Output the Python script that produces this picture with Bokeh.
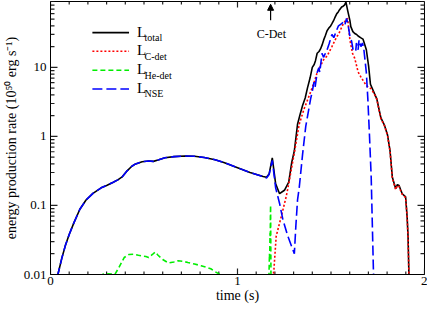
import math
from bokeh.plotting import figure
from bokeh.models import (Range1d, FixedTicker, Label, Arrow, NormalHead, CustomJSTickFormatter)
from bokeh.embed import file_html
from bokeh.resources import INLINE

# ---------------- data ----------------
t_total = [0.035, 0.045, 0.06, 0.079, 0.1, 0.125, 0.157, 0.19, 0.227, 0.271, 0.3, 0.333,
           0.36, 0.385, 0.411, 0.435, 0.455, 0.49, 0.525, 0.55, 0.575, 0.612, 0.66, 0.717,
           0.77, 0.822, 0.88, 0.927, 0.997, 1.067, 1.137, 1.155, 1.169, 1.186, 1.204, 1.225,
           1.251, 1.274, 1.29, 1.304, 1.321, 1.335, 1.348, 1.362, 1.374, 1.388, 1.4, 1.41,
           1.417, 1.426, 1.436, 1.444, 1.452, 1.461, 1.47, 1.479, 1.488, 1.496, 1.505, 1.513,
           1.52, 1.531, 1.538, 1.545, 1.557, 1.565, 1.572, 1.58, 1.589, 1.601, 1.606, 1.617,
           1.627, 1.637, 1.645, 1.658, 1.671, 1.689, 1.701, 1.711, 1.732, 1.745, 1.755, 1.767,
           1.785, 1.802, 1.816, 1.828, 1.846, 1.855, 1.864, 1.872, 1.881, 1.899, 1.907, 1.912,
           1.917]
L_total = [0.009, 0.0115, 0.017, 0.026, 0.038, 0.056, 0.088, 0.12, 0.15, 0.18, 0.195, 0.215,
           0.235, 0.262, 0.32, 0.37, 0.4, 0.43, 0.44, 0.435, 0.455, 0.49, 0.51, 0.52,
           0.515, 0.495, 0.46, 0.42, 0.355, 0.3, 0.262, 0.256, 0.285, 0.49, 0.206, 0.148,
           0.166, 0.217, 0.42, 0.62, 1.5, 2.1, 2.8, 3.6, 5.0, 7.0, 10.0, 11.0,
           12.5, 16.0, 17.0, 18.5, 21.0, 25.0, 29.0, 34.0, 37.0, 39.0, 43.0, 47.0,
           52.0, 60.0, 63.0, 68.0, 75.0, 77.0, 80.0, 88.0, 67.0, 48.0, 39.0, 33.0,
           31.0, 30.0, 28.5, 27.0, 25.7, 18.0, 10.5, 5.7, 4.2, 3.5, 2.6, 1.85,
           1.47, 1.06, 0.61, 0.256, 0.175, 0.2, 0.195, 0.17, 0.148, 0.133, 0.069, 0.036,
           0.009]

t_cdet = [1.19, 1.195, 1.207, 1.234, 1.26, 1.269, 1.277, 1.304, 1.33, 1.356, 1.391, 1.409,
          1.426, 1.461, 1.479, 1.505, 1.531, 1.54, 1.566, 1.583, 1.589, 1.601, 1.615, 1.627,
          1.645, 1.662, 1.689, 1.715, 1.732, 1.745, 1.755, 1.767, 1.785, 1.802, 1.816, 1.828,
          1.846, 1.855, 1.864, 1.872, 1.881, 1.899, 1.907, 1.912, 1.917]
L_cdet = [0.009, 0.012, 0.036, 0.069, 0.133, 0.175, 0.229, 0.58, 1.5, 2.5, 4.4, 6.0,
          8.4, 13.0, 14.6, 20.0, 28.0, 30.0, 43.0, 50.0, 51.0, 25.0, 16.0, 13.5,
          8.6, 7.1, 5.45, 4.87, 4.1, 3.45, 2.55, 1.8, 1.45, 1.04, 0.6, 0.25,
          0.17, 0.195, 0.19, 0.165, 0.145, 0.13, 0.068, 0.035, 0.009]

t_he_a = [0.27, 0.28, 0.31, 0.345, 0.365, 0.394, 0.42, 0.446, 0.47, 0.49, 0.51, 0.525, 0.545,
          0.56, 0.575, 0.6, 0.63, 0.66, 0.682, 0.71, 0.735, 0.77, 0.805, 0.83, 0.857, 0.88,
          0.901, 0.92]
L_he_a = [0.009, 0.0101, 0.0102, 0.0101, 0.0125, 0.0176, 0.0195, 0.0197, 0.019, 0.0186, 0.0182,
          0.0176, 0.0195, 0.0212, 0.019, 0.0165, 0.0147, 0.0152, 0.0158, 0.0155, 0.0149, 0.0142,
          0.0134, 0.0128, 0.0121, 0.011, 0.0102, 0.0095]
t_he_b = [1.168, 1.171, 1.172, 1.174, 1.175, 1.176, 1.177, 1.178, 1.179]
L_he_b = [0.009, 0.02, 0.016, 0.04, 0.03, 0.07, 0.1, 0.03, 0.009]

t_nse = [0.035, 0.045, 0.06, 0.079, 0.1, 0.125, 0.157, 0.19, 0.227, 0.271, 0.3, 0.333,
         0.36, 0.385, 0.411, 0.435, 0.455, 0.49, 0.525, 0.55, 0.575, 0.612, 0.66, 0.717,
         0.77, 0.822, 0.88, 0.927, 0.997, 1.067, 1.137, 1.155, 1.169, 1.186, 1.204, 1.225,
         1.243, 1.269, 1.304, 1.312, 1.321, 1.33, 1.348, 1.365, 1.391, 1.4, 1.409, 1.415,
         1.426, 1.435, 1.44, 1.452, 1.46, 1.479, 1.49, 1.505, 1.515, 1.531, 1.54, 1.557,
         1.566, 1.575, 1.583, 1.59, 1.601, 1.61, 1.618, 1.632, 1.636, 1.645, 1.65, 1.66,
         1.668, 1.675, 1.689, 1.697, 1.706, 1.715, 1.727, 1.729]
L_nse = [0.009, 0.0115, 0.017, 0.026, 0.038, 0.056, 0.088, 0.12, 0.15, 0.18, 0.195, 0.215,
         0.235, 0.262, 0.32, 0.37, 0.4, 0.43, 0.44, 0.435, 0.455, 0.49, 0.51, 0.52,
         0.515, 0.495, 0.46, 0.42, 0.355, 0.3, 0.262, 0.25, 0.28, 0.45, 0.18, 0.107,
         0.062, 0.036, 0.02, 0.05, 0.12, 0.18, 0.55, 1.4, 3.5, 4.5, 6.1, 5.2,
         8.4, 9.9, 8.5, 16.0, 14.0, 18.0, 22.0, 30.0, 27.0, 35.0, 40.0, 43.0,
         46.0, 42.0, 51.0, 44.0, 28.0, 24.0, 18.0, 17.0, 22.5, 18.0, 25.0, 20.0,
         22.5, 19.0, 8.4, 3.5, 1.0, 0.256, 0.011, 0.009]

x_major_ticks = [0, 1, 2]
x_minor_ticks = [0.1, 0.2, 0.3, 0.4, 0.5, 0.6, 0.7, 0.8, 0.9, 1.1, 1.2, 1.3, 1.4, 1.5,
                 1.6, 1.7, 1.8, 1.9]
y_major_ticks = [0.01, 0.1, 1, 10]
y_minor_ticks = [0.02, 0.03, 0.04, 0.05, 0.06, 0.07, 0.08, 0.09,
                 0.2, 0.3, 0.4, 0.5, 0.6, 0.7, 0.8, 0.9,
                 2, 3, 4, 5, 6, 7, 8, 9,
                 20, 30, 40, 50, 60, 70, 80, 90]

x_title = "time (s)"
y_title = "energy production rate (10\u2075\u2070 erg s\u207b\u00b9)"
legend_main = ["L", "L", "L", "L"]
legend_sub = ["total", "C-det", "He-det", "NSE"]
colors = ["black", "#ff0000", "#00ee00", "#0000ff"]
dashes = ["solid", "2 2", "5 3", "10 4"]

FONT = "Liberation Serif"
X0, X1 = 0.0, 2.0
Y0, Y1 = 0.01, 90.0
FW, FH = 374, 273          # frame size in px

# ---------------- figure ----------------
p = figure(frame_width=FW, frame_height=FH, x_range=Range1d(X0, X1), y_range=Range1d(Y0, Y1),
           y_axis_type="log", output_backend="svg", toolbar_location=None,
           min_border_left=10, min_border_right=3, min_border_top=1, min_border_bottom=10)
p.xgrid.visible = False
p.ygrid.visible = False
p.outline_line_color = "black"
p.outline_line_width = 1
p.background_fill_color = "white"
p.border_fill_color = "white"

p.xaxis.ticker = FixedTicker(ticks=x_major_ticks)
p.yaxis.ticker = FixedTicker(ticks=y_major_ticks)
p.yaxis.formatter = CustomJSTickFormatter(code="return tick.toString()")
for ax in (p.xaxis[0], p.yaxis[0]):
    ax.major_tick_in = 0
    ax.major_tick_out = 0
    ax.minor_tick_in = 0
    ax.minor_tick_out = 0
    ax.axis_line_color = "black"
    ax.major_label_text_font = FONT
    ax.major_label_text_font_size = "13px"
    ax.major_label_text_color = "black"
    ax.axis_label_text_font = FONT
    ax.axis_label_text_font_size = "14px"
    ax.axis_label_text_font_style = "normal"
    ax.axis_label_text_color = "black"
p.xaxis.major_label_standoff = 2
p.yaxis.major_label_standoff = 4
p.xaxis.axis_label = x_title
p.xaxis.axis_label_standoff = 0
p.yaxis.axis_label = y_title
p.yaxis.axis_label_standoff = 2

# ---------------- inward tick marks on all four sides (one broken line) ----------------
px_x = (X1 - X0) / FW                         # data units per px (x)
dec_px = FH / math.log10(Y1 / Y0)             # px per decade (y)


def yfac(npx):
    return 10 ** (npx / dec_px)


nan = float("nan")
tick_x, tick_y = [], []
for ticks, ln in ((x_major_ticks, 6), (x_minor_ticks, 3)):
    for t in ticks:
        tick_x += [t, t, nan, t, t, nan]
        tick_y += [Y0, Y0 * yfac(ln), nan, Y1, Y1 / yfac(ln), nan]
for ticks, ln in ((y_major_ticks, 7), (y_minor_ticks, 4)):
    for v in ticks:
        tick_x += [X0, X0 + ln * px_x, nan, X1, X1 - ln * px_x, nan]
        tick_y += [v, v, nan, v, v, nan]
p.line(tick_x, tick_y, line_color="#222222", line_width=1.2)

# ---------------- curves ----------------
p.line(t_total, L_total, line_color=colors[0], line_width=1.6)
p.line(t_cdet, L_cdet, line_color=colors[1], line_width=1.6, line_dash=dashes[1])
p.line(t_he_a, L_he_a, line_color=colors[2], line_width=1.6, line_dash=dashes[2])
p.line(t_he_b, L_he_b, line_color=colors[2], line_width=1.6, line_dash=dashes[2])
p.line(t_nse, L_nse, line_color=colors[3], line_width=1.6, line_dash=dashes[3])

# ---------------- legend (drawn manually for subscripts) ----------------
leg_y = [31.9, 17.1, 9.1, 4.87]
for i in range(4):
    p.add_layout(Arrow(end=None, x_start=0.224, y_start=leg_y[i], x_end=0.42, y_end=leg_y[i],
                       line_color=colors[i], line_width=1.6, line_dash=dashes[i]))
    p.add_layout(Label(x=0.462, y=leg_y[i], text=legend_main[i], text_font=FONT,
                       text_font_size="15px", text_baseline="middle", y_offset=1,
                       text_color="black"))
    p.add_layout(Label(x=0.503, y=leg_y[i], text=legend_sub[i], text_font=FONT,
                       text_font_size="10px", text_baseline="middle", y_offset=-5,
                       text_color="black"))

# ---------------- C-Det marker ----------------
p.add_layout(Arrow(end=NormalHead(size=6, fill_color="black", line_color="black"),
                   x_start=1.177, y_start=48, x_end=1.177, y_end=82,
                   line_color="black", line_width=1.2))
p.add_layout(Label(x=1.181, y=30.0, text="C-Det", text_font=FONT, text_font_size="12px",
                   text_align="center", text_baseline="middle", text_color="black"))

open("out.html", "w").write(file_html(p, INLINE))
